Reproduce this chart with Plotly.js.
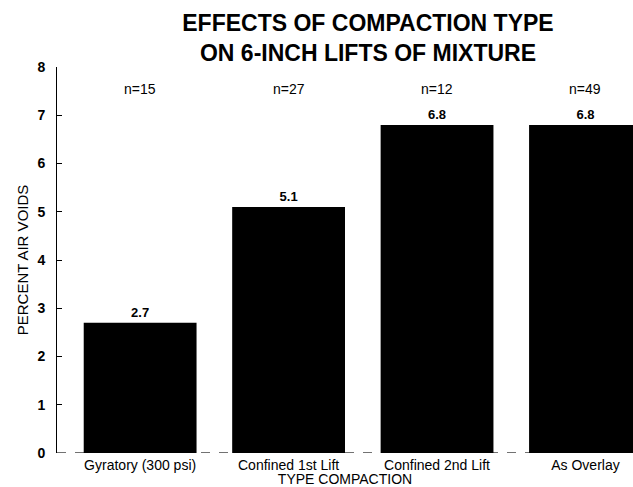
<!DOCTYPE html>
<html>
<head>
<meta charset="utf-8">
<script src="https://cdn.plot.ly/plotly-3.0.1.min.js"></script>
<style>html,body{margin:0;padding:0;background:#fff;}#chart{width:633px;height:487px;}</style>
</head>
<body>
<div id="chart"></div>
<script>
const categories = ["Gyratory (300 psi)", "Confined 1st Lift", "Confined 2nd Lift", "As Overlay"];
const airVoids = [2.7, 5.1, 6.8, 6.8];
const valueLabels = ["2.7", "5.1", "6.8", "6.8"];
const sampleSizes = [15, 27, 12, 49];
const yTicks = [0, 1, 2, 3, 4, 5, 6, 7, 8];
const titleLines = ["EFFECTS OF COMPACTION TYPE", "ON 6-INCH LIFTS OF MIXTURE"];

const FONT = "Liberation Sans, Arial, Helvetica, sans-serif";

const trace = {
  type: "bar",
  x: categories,
  y: airVoids,
  text: valueLabels,
  textposition: "outside",
  cliponaxis: false,
  textfont: {family: FONT, size: 13, color: "#000", weight: "bold"},
  marker: {color: "#000", line: {width: 0}},
  width: 0.76,
  hoverinfo: "x+y"
};

const nAnnotations = categories.map((c, i) => ({
  x: c, y: 7.55, xref: "x", yref: "y",
  text: "n=" + sampleSizes[i],
  showarrow: false,
  font: {family: FONT, size: 14, color: "#000"},
  xanchor: "center", yanchor: "middle"
}));

const layout = {
  width: 633, height: 487,
  margin: {l: 57, r: 0, t: 67, b: 34, pad: 0},
  paper_bgcolor: "#fff", plot_bgcolor: "#fff",
  font: {family: FONT, color: "#000"},
  showlegend: false,
  title: {
    text: titleLines.join("<br>"),
    font: {family: FONT, size: 23, weight: "bold", color: "#000"},
    x: 368 / 633, xanchor: "center",
    y: 1 - 31 / 487, yanchor: "middle"
  },
  xaxis: {
    type: "category",
    range: [-0.56, 3.32],
    showline: false, showgrid: false, zeroline: false,
    ticks: "",
    tickfont: {family: FONT, size: 14, color: "#000"},
    ticklabelstandoff: 2,
    title: {text: "TYPE COMPACTION", font: {family: FONT, size: 14, color: "#000"}, standoff: 4},
    automargin: false,
    fixedrange: true
  },
  yaxis: {
    range: [0, 8],
    tickvals: yTicks,
    ticktext: yTicks.map(String),
    showline: true, linecolor: "#000", linewidth: 1,
    ticks: "inside", ticklen: 5, tickcolor: "#000", tickwidth: 1,
    tickfont: {family: FONT, size: 14, color: "#000", weight: "bold"},
    ticklabelstandoff: 8,
    showgrid: false, zeroline: false,
    title: {text: "PERCENT AIR VOIDS", font: {family: FONT, size: 15, color: "#000"}, standoff: 5},
    automargin: false,
    fixedrange: true
  },
  shapes: [{
    type: "line", xref: "paper", yref: "y",
    x0: 0, x1: 1, y0: 0, y1: 0,
    line: {color: "#444", width: 1.5, dash: "dash"},
    layer: "below"
  }],
  annotations: nAnnotations
};

Plotly.newPlot("chart", [trace], layout, {displayModeBar: false, staticPlot: true});
</script>
</body>
</html>
